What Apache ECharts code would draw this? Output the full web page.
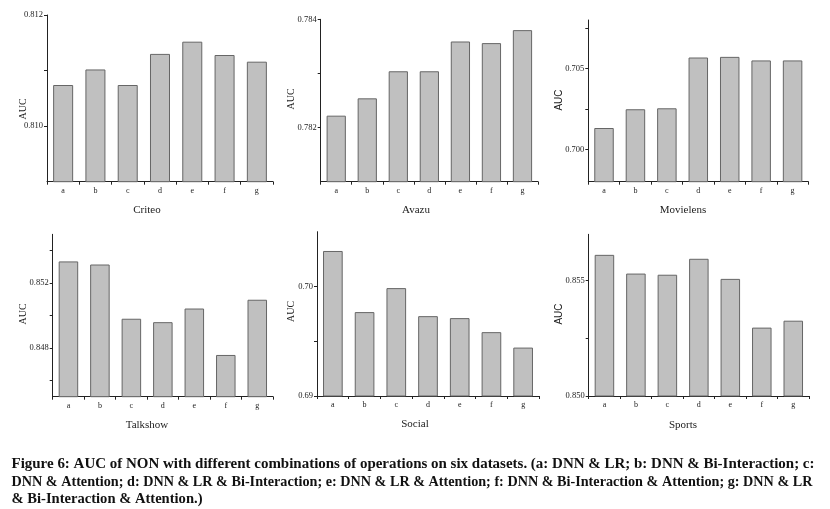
<!DOCTYPE html>
<html><head><meta charset="utf-8">
<script src="https://cdn.jsdelivr.net/npm/echarts@6/dist/echarts.min.js"></script>
<style>html,body{margin:0;padding:0;background:#fff}#c{width:830px;height:509px}</style>
</head><body><div id="c"></div>
<script>
var categories = ['a','b','c','d','e','f','g'];
var criteo    = [0.81074, 0.81102, 0.81074, 0.81130, 0.81152, 0.81128, 0.81116];
var avazu     = [0.78222, 0.78254, 0.78304, 0.78304, 0.78359, 0.78356, 0.78380];
var movielens = [0.70132, 0.70248, 0.70254, 0.70568, 0.70572, 0.70550, 0.70550];
var talkshow  = [0.85333, 0.85314, 0.84980, 0.84959, 0.85043, 0.84757, 0.85097];
var social    = [0.70324, 0.69766, 0.69985, 0.69729, 0.69711, 0.69583, 0.69442];
var sports    = [0.85611, 0.85530, 0.85525, 0.85594, 0.85507, 0.85296, 0.85326];

var criteoLabels = [0.810, 0.812],  criteoTicks = [0.810, 0.811, 0.812];
var avazuLabels = [0.782, 0.784],   avazuTicks = [0.782, 0.783, 0.784];
var movielensLabels = [0.700, 0.705], movielensTicks = [0.700, 0.7025, 0.705, 0.7075];
var talkshowLabels = [0.848, 0.852], talkshowTicks = [0.846, 0.848, 0.850, 0.852, 0.854];
var socialLabels = [0.69, 0.70],    socialTicks = [0.69, 0.695, 0.70];
var sportsLabels = [0.850, 0.855],  sportsTicks = [0.850, 0.8525, 0.855];

var datasetNames = ['Criteo','Avazu','Movielens','Talkshow','Social','Sports'];
var caption = [
 'Figure 6: AUC of NON with different combinations of operations on six datasets. (a: DNN & LR; b: DNN & Bi-Interaction; c:',
 'DNN & Attention; d: DNN & LR & Bi-Interaction; e: DNN & LR & Attention; f: DNN & Bi-Interaction & Attention; g: DNN & LR',
 '& Bi-Interaction & Attention.)'
];

var panels = [
 {data: criteo, labels: criteoLabels, ticks: criteoTicks, min: 0.809, max: 0.812, dec: 3,
  grid: {left: 47, right: 830-273, top: 15, bottom: 509-181.7}, auc: [23, 109], name: [147, 210], aucFont: 'serif'},
 {data: avazu, labels: avazuLabels, ticks: avazuTicks, min: 0.781, max: 0.784, dec: 3,
  grid: {left: 320.7, right: 830-538, top: 19.3, bottom: 509-181.7}, auc: [291, 99], name: [416, 210], aucFont: 'serif'},
 {data: movielens, labels: movielensLabels, ticks: movielensTicks, min: 0.698, max: 0.708, dec: 3,
  grid: {left: 588.3, right: 830-808.3, top: 20, bottom: 509-181.7}, auc: [559, 100], name: [683, 210], aucFont: 'sans'},
 {data: talkshow, labels: talkshowLabels, ticks: talkshowTicks, min: 0.845, max: 0.855, dec: 3,
  grid: {left: 52.7, right: 830-273, top: 234.3, bottom: 509-396.7}, auc: [23, 314], name: [147, 425], aucFont: 'serif'},
 {data: social, labels: socialLabels, ticks: socialTicks, min: 0.69, max: 0.705, dec: 2,
  grid: {left: 317, right: 830-539, top: 231.7, bottom: 509-396}, auc: [291, 311.5], name: [415, 424], aucFont: 'serif'},
 {data: sports, labels: sportsLabels, ticks: sportsTicks, min: 0.850, max: 0.857, dec: 3,
  grid: {left: 588.7, right: 830-809, top: 234.3, bottom: 509-396}, auc: [559, 314], name: [683, 425], aucFont: 'sans'}
];

var SERIF = '"Liberation Serif", "DejaVu Serif", serif';
var SANS = '"Liberation Sans", Arial, sans-serif';
var axisColor = '#222';

var grids = [], xAxes = [], yAxes = [], series = [], graphics = [];
panels.forEach(function (p, i) {
  grids.push(p.grid);
  xAxes.push({
    type: 'category', gridIndex: i, data: categories,
    axisLine: {onZero: false, lineStyle: {color: axisColor, width: 1}},
    axisTick: {show: true, length: 3, lineStyle: {color: axisColor}},
    axisLabel: {fontFamily: SERIF, fontSize: 8, color: '#222', margin: 5},
    splitLine: {show: false}
  });
  (function (dec) {
    yAxes.push({
      type: 'value', gridIndex: i, min: p.min, max: p.max,
      axisLine: {show: true, lineStyle: {color: axisColor, width: 1}},
      axisTick: {show: true, length: 3, customValues: p.ticks, lineStyle: {color: axisColor}},
      axisLabel: {customValues: p.labels, fontFamily: SERIF, fontSize: 8.5, color: '#222', margin: 4,
        formatter: function (v) { return Number(v).toFixed(dec); }},
      splitLine: {show: false}
    });
  })(p.dec);
  series.push({
    type: 'bar', xAxisIndex: i, yAxisIndex: i, data: p.data, barWidth: '62%',
    itemStyle: {color: '#c0c0c0', borderColor: '#666', borderWidth: 1},
    silent: true
  });
  graphics.push({
    type: 'text', x: p.auc[0], y: p.auc[1], rotation: Math.PI / 2,
    style: {text: 'AUC', font: (p.aucFont === 'sans' ? '10px ' + SANS : '10px ' + SERIF),
      fill: '#222', align: 'center', verticalAlign: 'middle'}
  });
  graphics.push({
    type: 'text', x: p.name[0], y: p.name[1],
    style: {text: datasetNames[i], font: '11px ' + SERIF, fill: '#222', align: 'center', verticalAlign: 'middle'}
  });
});

var capFont = 'bold 14px ' + SERIF;
var capY = [464, 482, 499];
var capWidth = [803, 801, 191];
var ctx = document.createElement('canvas').getContext('2d');
ctx.font = capFont;
caption.forEach(function (line, k) {
  var w = ctx.measureText(line).width;
  var sx = capWidth[k] / w;
  graphics.push({
    type: 'text', x: 11.5, y: capY[k], scaleX: sx, scaleY: 1,
    style: {text: line, font: capFont, fill: '#111', align: 'left', verticalAlign: 'middle'}
  });
});

var chart = echarts.init(document.getElementById('c'), null, {renderer: 'canvas'});
chart.setOption({
  animation: false,
  backgroundColor: '#fff',
  grid: grids, xAxis: xAxes, yAxis: yAxes, series: series,
  graphic: graphics
});
</script></body></html>
